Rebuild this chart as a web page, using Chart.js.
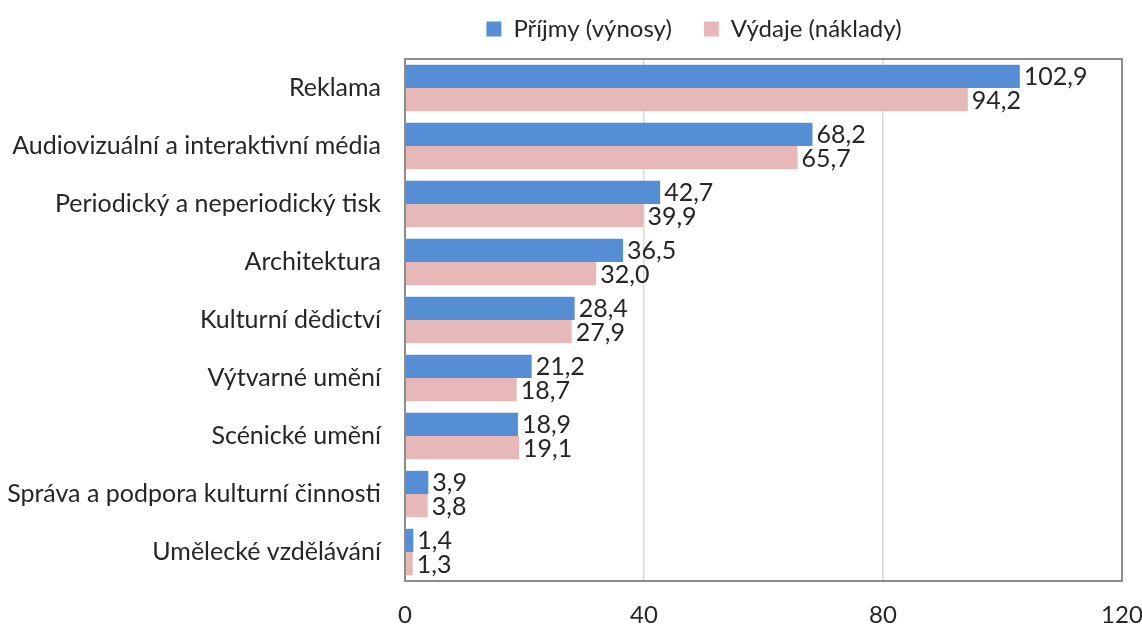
<!DOCTYPE html>
<html>
<head>
<meta charset="utf-8">
<script src="https://cdn.jsdelivr.net/npm/chart.js@4.4.1/dist/chart.umd.min.js"></script>
<style>
  html, body { margin: 0; padding: 0; background: #fff; }
  #wrap { width: 1142px; height: 628px; }
</style>
</head>
<body>
<div id="wrap"><canvas id="myChart" width="1142" height="628"></canvas></div>
<script>
// data
var categories = [
  'Reklama',
  'Audiovizuální a interaktivní média',
  'Periodický a neperiodický tisk',
  'Architektura',
  'Kulturní dědictví',
  'Výtvarné umění',
  'Scénické umění',
  'Správa a podpora kulturní činnosti',
  'Umělecké vzdělávání'
];
var prijmy = [102.9, 68.2, 42.7, 36.5, 28.4, 21.2, 18.9, 3.9, 1.4];
var vydaje = [94.2, 65.7, 39.9, 32.0, 27.9, 18.7, 19.1, 3.8, 1.3];
var xTicks = [0, 40, 80, 120];

var fontName = 'Lato, "Open Sans", sans-serif';
var fontSize = 25;
var textColor = '#262626';

// value labels at the end of each bar, Czech decimal comma
var barLabels = {
  id: 'barLabels',
  afterDatasetsDraw: function (chart) {
    var ctx = chart.ctx;
    ctx.save();
    ctx.font = fontSize + 'px ' + fontName;
    ctx.fillStyle = textColor;
    ctx.textAlign = 'left';
    ctx.textBaseline = 'middle';
    chart.data.datasets.forEach(function (ds, i) {
      chart.getDatasetMeta(i).data.forEach(function (bar, j) {
        var txt = ds.data[j].toFixed(1).replace('.', ',');
        ctx.fillText(txt, bar.x + 4, bar.y + 1);
      });
    });
    ctx.restore();
  }
};

// grey frame round the plot area
var plotFrame = {
  id: 'plotFrame',
  afterDraw: function (chart) {
    var a = chart.chartArea;
    var ctx = chart.ctx;
    ctx.save();
    ctx.strokeStyle = '#8c8c8c';
    ctx.lineWidth = 2;
    ctx.strokeRect(a.left, a.top, a.right - a.left, a.bottom - a.top);
    ctx.restore();
  }
};

// legend: a bit more room below it, and moved right of centre like the original
var legendShift = {
  id: 'legendShift',
  beforeInit: function (chart) {
    var lg = chart.legend;
    var fit = lg.fit;
    lg.fit = function () {
      fit.call(this);
      this.height += 8;
    };
    var draw = lg.draw;
    lg.draw = function () {
      var c = this.ctx;
      c.save();
      c.translate(124, 0);
      draw.call(this);
      c.restore();
    };
  }
};

var createChart = function () {
  var ctx = document.getElementById('myChart');
  new Chart(ctx, {
    type: 'bar',
    data: {
      labels: categories,
      datasets: [{
        label: 'Příjmy (výnosy)',
        data: prijmy,
        backgroundColor: '#558ed5'
      }, {
        label: 'Výdaje (náklady)',
        data: vydaje,
        backgroundColor: '#e6b9b8'
      }]
    },
    options: {
      indexAxis: 'y',
      responsive: false,
      animation: false,
      layout: { padding: { left: 0, right: 2, top: -15, bottom: 0 } },
      datasets: {
        bar: { categoryPercentage: 0.8, barPercentage: 1.0 }
      },
      plugins: {
        legend: {
          position: 'top',
          labels: {
            font: { family: fontName, size: 24 },
            color: textColor,
            boxWidth: 15,
            boxHeight: 15,
            padding: 32
          }
        },
        tooltip: { enabled: false }
      },
      scales: {
        x: {
          min: 0,
          max: 120,
          afterBuildTicks: function (scale) {
            scale.ticks = xTicks.map(function (v) { return { value: v }; });
          },
          grid: { color: '#d9d9d9', lineWidth: 1.5, drawTicks: false },
          border: { display: false },
          ticks: {
            font: { family: fontName, size: 24 },
            color: textColor,
            padding: 20
          },
          afterFit: function (scale) {
            scale.height = 47;
            scale.paddingLeft = 0;
            scale.paddingRight = 20;
          }
        },
        y: {
          grid: { display: false },
          border: { display: false },
          ticks: {
            font: { family: fontName, size: fontSize },
            color: textColor,
            padding: 16
          },
          afterFit: function (scale) { scale.width = 405; }
        }
      }
    },
    plugins: [barLabels, plotFrame, legendShift]
  });
};

createChart();
</script>
</body>
</html>
